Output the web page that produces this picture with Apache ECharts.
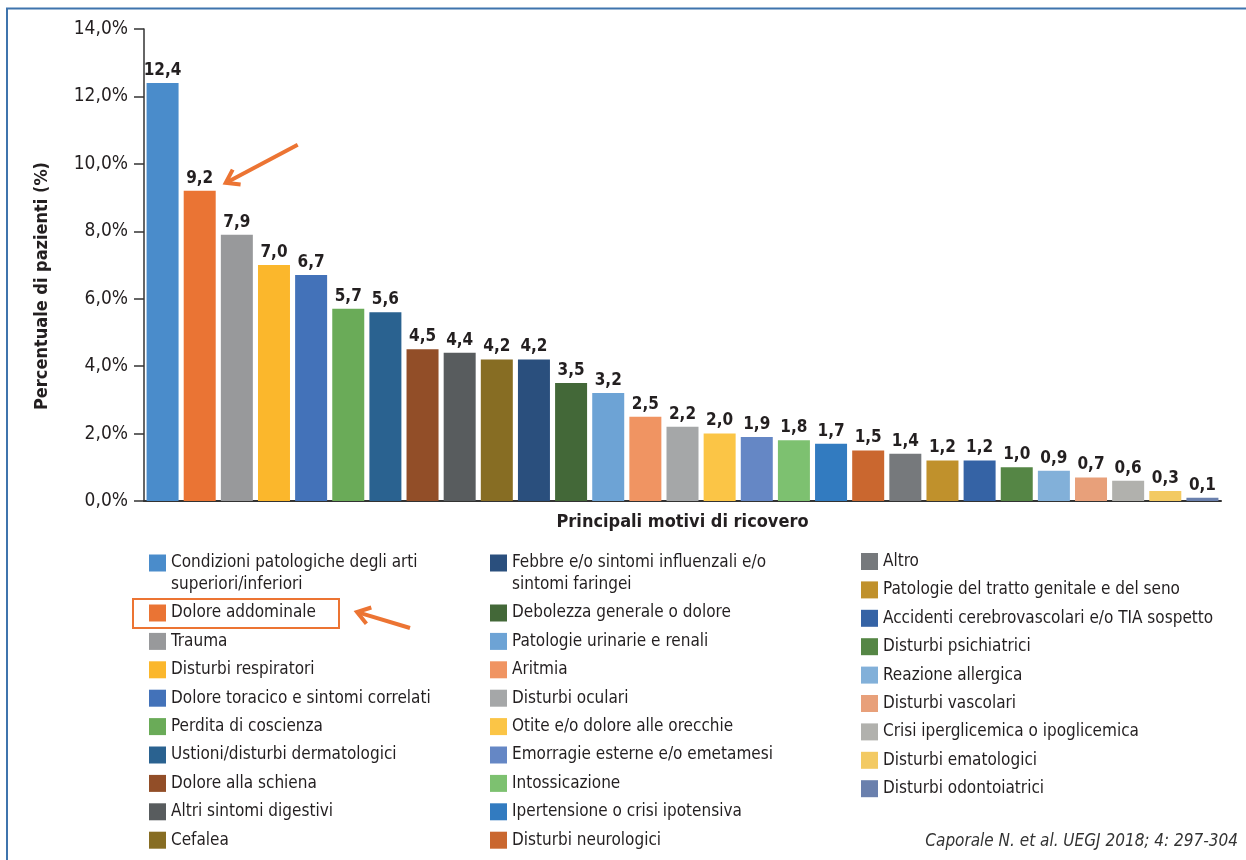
<!DOCTYPE html>
<html>
<head>
<meta charset="utf-8">
<script src="https://cdn.jsdelivr.net/npm/echarts@6/dist/echarts.min.js"></script>
<style>
  html, body { margin: 0; padding: 0; background: #fff; }
  #chart { width: 1246px; height: 860px; }
</style>
</head>
<body>
<div id="chart"></div>
<script>
// motivi di ricovero, in ordine di frequenza
const categories = [
  'Condizioni patologiche degli arti superiori/inferiori',
  'Dolore addominale',
  'Trauma',
  'Disturbi respiratori',
  'Dolore toracico e sintomi correlati',
  'Perdita di coscienza',
  'Ustioni/disturbi dermatologici',
  'Dolore alla schiena',
  'Altri sintomi digestivi',
  'Cefalea',
  'Febbre e/o sintomi influenzali e/o sintomi faringei',
  'Debolezza generale o dolore',
  'Patologie urinarie e renali',
  'Aritmia',
  'Disturbi oculari',
  'Otite e/o dolore alle orecchie',
  'Emorragie esterne e/o emetamesi',
  'Intossicazione',
  'Ipertensione o crisi ipotensiva',
  'Disturbi neurologici',
  'Altro',
  'Patologie del tratto genitale e del seno',
  'Accidenti cerebrovascolari e/o TIA sospetto',
  'Disturbi psichiatrici',
  'Reazione allergica',
  'Disturbi vascolari',
  'Crisi iperglicemica o ipoglicemica',
  'Disturbi ematologici',
  'Disturbi odontoiatrici'
];
// percentuale di pazienti (%)
const values = [12.4, 9.2, 7.9, 7.0, 6.7, 5.7, 5.6, 4.5, 4.4, 4.2, 4.2, 3.5, 3.2, 2.5, 2.2,
  2.0, 1.9, 1.8, 1.7, 1.5, 1.4, 1.2, 1.2, 1.0, 0.9, 0.7, 0.6, 0.3, 0.1];
const colors = [
  '#4a8ccb', '#ea7434', '#98999b', '#fbb72c', '#4372b9', '#6aab58', '#2a6290', '#924e28',
  '#585c5e', '#876d23', '#2a4f7d', '#436838', '#6da3d5', '#f09462', '#a5a7a8', '#fbc546',
  '#6587c5', '#7dc170', '#327bc0', '#ca672f', '#76797c', '#c0912c', '#3563a5', '#558645',
  '#82b0d9', '#e8a07a', '#b1b1ad', '#f3ca63', '#6a80ad'
];
// tacche asse y
const yTicks = { min: 0, max: 14, interval: 2 };
// colonne della legenda
const legendCol1a = categories.slice(0, 1);
const legendCol1b = categories.slice(1, 10);
const legendCol2a = categories.slice(10, 11);
const legendCol2b = categories.slice(11, 20);
const legendCol3 = categories.slice(20, 29);
// nomi lunghi spezzati su due righe (riga vuota davanti per allineare il quadratino alla prima riga)
const wrapped = {
  'Condizioni patologiche degli arti superiori/inferiori': '\nCondizioni patologiche degli arti\nsuperiori/inferiori',
  'Febbre e/o sintomi influenzali e/o sintomi faringei': '\nFebbre e/o sintomi influenzali e/o\nsintomi faringei'
};

const narrow = "'Liberation Sans Narrow', 'DejaVu Sans Condensed', 'Roboto Condensed', sans-serif";
const textColor = '#231f20';
const orange = '#ec7433';

const fmt = v => v.toFixed(1).replace('.', ',');

const series = categories.map((name, i) => ({
  name: name,
  type: 'bar',
  barWidth: 32,
  barGap: '-100%',
  itemStyle: { color: colors[i] },
  label: {
    show: true,
    position: 'top',
    distance: 4,
    fontFamily: narrow,
    fontWeight: 'bold',
    fontSize: 17,
    color: textColor,
    formatter: p => fmt(p.value)
  },
  emphasis: { disabled: true },
  data: categories.map((c, j) => (j === i ? values[i] : null))
}));

const legendBase = {
  orient: 'vertical',
  padding: 0,
  itemWidth: 17,
  itemHeight: 17,
  itemGap: 11.4,
  icon: 'rect',
  selectedMode: false,
  textStyle: { fontFamily: narrow, fontSize: 17, color: textColor, lineHeight: 17 },
  formatter: n => wrapped[n] || n
};
const legendWrap = Object.assign({}, legendBase, {
  textStyle: { fontFamily: narrow, fontSize: 17, color: textColor, lineHeight: 22 }
});

const option = {
  animation: false,
  grid: { left: 144, right: 25, top: 29, bottom: 359 },
  xAxis: {
    type: 'category',
    data: categories,
    name: 'Principali motivi di ricovero',
    nameLocation: 'middle',
    nameGap: 12,
    nameTextStyle: { fontFamily: narrow, fontWeight: 'bold', fontSize: 18, color: textColor },
    axisLine: { lineStyle: { color: '#333', width: 2 } },
    axisTick: { show: false },
    axisLabel: { show: false }
  },
  yAxis: {
    type: 'value',
    min: yTicks.min,
    max: yTicks.max,
    interval: yTicks.interval,
    name: 'Percentuale di pazienti (%)',
    nameLocation: 'middle',
    nameGap: 93,
    nameTextStyle: { fontFamily: narrow, fontWeight: 'bold', fontSize: 18, color: textColor, padding: [0, 42, 0, 0] },
    axisLine: { show: true, lineStyle: { color: '#333', width: 1.5 } },
    axisTick: { show: true, length: 10, lineStyle: { color: '#333', width: 1.5 } },
    axisLabel: {
      fontFamily: narrow,
      fontSize: 19,
      color: textColor,
      margin: 16,
      formatter: v => fmt(v) + '%'
    },
    splitLine: { show: false }
  },
  legend: [
    Object.assign({}, legendWrap, { data: legendCol1a, left: 149, top: 530 }),
    Object.assign({}, legendBase, { data: legendCol1b, left: 149, top: 604.5 }),
    Object.assign({}, legendWrap, { data: legendCol2a, left: 490, top: 530 }),
    Object.assign({}, legendBase, { data: legendCol2b, left: 490, top: 604.5 }),
    Object.assign({}, legendBase, { data: legendCol3, left: 861, top: 553 })
  ],
  series: series
};

const chart = echarts.init(document.getElementById('chart'));
chart.setOption(option);

// freccia: segmento + punta a V
function arrow(tip, dx, dy) {
  const len = Math.sqrt(dx * dx + dy * dy);
  const ux = dx / len, uy = dy / len; // verso la coda
  const head = 15, ang = 0.6;
  const rot = a => [ux * Math.cos(a) - uy * Math.sin(a), ux * Math.sin(a) + uy * Math.cos(a)];
  const r1 = rot(ang), r2 = rot(-ang);
  const style = { stroke: orange, lineWidth: 4, fill: null, lineJoin: 'miter' };
  return [
    { type: 'line', shape: { x1: tip[0] + ux * 2, y1: tip[1] + uy * 2, x2: tip[0] + dx, y2: tip[1] + dy }, style: style },
    { type: 'polyline', shape: { points: [
      [tip[0] + r1[0] * head, tip[1] + r1[1] * head], tip, [tip[0] + r2[0] * head, tip[1] + r2[1] * head]
    ] }, style: style }
  ];
}

const p = chart.convertToPixel({ gridIndex: 0 }, [1, values[1]]);
const tip1 = [p[0] + 26, p[1] - 8];

chart.setOption({
  graphic: [
    { type: 'polyline', shape: { points: [[7, 860], [7, 8.5], [1246, 8.5]] },
      style: { stroke: '#3f74ad', lineWidth: 2, fill: null }, silent: true },
    ...arrow(tip1, 72, -38),
    ...arrow([357, 612], 53, 16),
    { type: 'rect', shape: { x: 133, y: 599, width: 206, height: 29 },
      style: { stroke: orange, lineWidth: 2, fill: null } },
    { type: 'text', right: 8, top: 833,
      style: { text: 'Caporale N. et al. UEGJ 2018; 4: 297-304', fontFamily: narrow, fontStyle: 'italic',
        fontSize: 17, fill: '#333' } }
  ]
});
</script>
</body>
</html>
